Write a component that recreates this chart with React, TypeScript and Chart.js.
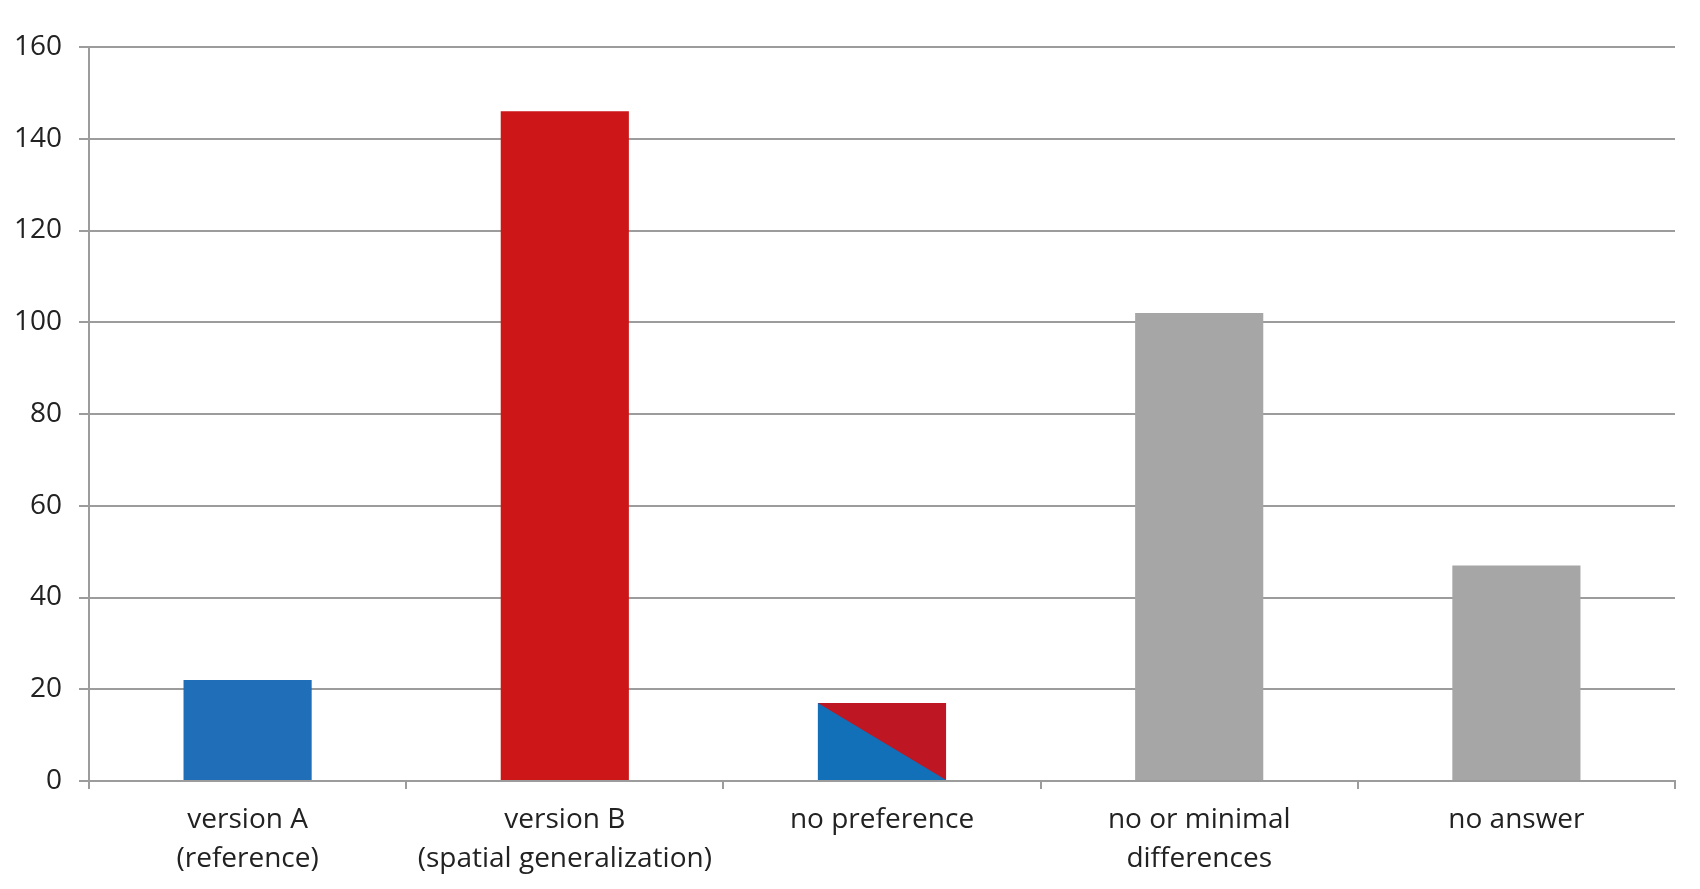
import React, { useEffect, useRef } from "react";
import { Chart, registerables } from "chart.js";

Chart.register(...registerables);

const categories: string[][] = [
  ["version A", "(reference)"],
  ["version B", "(spatial generalization)"],
  ["no preference"],
  ["no or minimal", "differences"],
  ["no answer"],
];
const counts: number[] = [22, 146, 17, 102, 47];
const barColors: string[] = ["#1F6EB7", "#CC1618", "#BE1622", "#A6A6A6", "#A6A6A6"];
const splitBarIndex = 2;
const splitLowerColor = "#1170B8";
const yTicks: number[] = [0, 20, 40, 60, 80, 100, 120, 140, 160];

const splitPlugin = {
  id: "splitBar",
  afterDatasetsDraw(chart: any) {
    const meta = chart.getDatasetMeta(0);
    const el: any = meta.data[splitBarIndex];
    if (!el) return;
    const { x, y, base, width } = el.getProps(["x", "y", "base", "width"], true);
    const left = x - width / 2;
    const right = x + width / 2;
    const ctx = chart.ctx;
    ctx.save();
    ctx.fillStyle = splitLowerColor;
    ctx.beginPath();
    ctx.moveTo(left, y);
    ctx.lineTo(right, base);
    ctx.lineTo(left, base);
    ctx.closePath();
    ctx.fill();
    ctx.restore();
  },
};

export default function App() {
  const ref = useRef<HTMLCanvasElement | null>(null);
  useEffect(() => {
    if (!ref.current) return;
    const font = { family: "'Open Sans', Lato, sans-serif", size: 28 };
    const chart = new Chart(ref.current, {
      type: "bar",
      data: {
        labels: categories,
        datasets: [
          {
            data: counts,
            backgroundColor: barColors,
            borderWidth: 0,
            categoryPercentage: 1,
            barPercentage: 0.404,
          },
        ],
      },
      plugins: [splitPlugin],
      options: {
        animation: false,
        responsive: true,
        maintainAspectRatio: false,
        layout: { padding: { top: 47, right: 25, left: 0, bottom: 0 } },
        plugins: { legend: { display: false }, tooltip: { enabled: false } },
        scales: {
          x: {
            afterFit: (s: any) => {
              s.height = 108;
            },
            grid: {
              offset: true,
              drawOnChartArea: false,
              drawTicks: true,
              tickLength: 8,
              color: "#9C9C9C",
              lineWidth: 2,
            },
            border: { display: true, color: "#9C9C9C", width: 2 },
            ticks: {
              color: "#222222",
              font: { ...font, lineHeight: 1.4 },
              padding: 11,
              maxRotation: 0,
              autoSkip: false,
            },
          },
          y: {
            min: 0,
            max: 160,
            afterFit: (s: any) => {
              s.width = 89;
            },
            afterBuildTicks: (s: any) => {
              s.ticks = yTicks.map((v) => ({ value: v }));
            },
            grid: {
              color: "#9C9C9C",
              lineWidth: 2,
              tickLength: 10,
              drawTicks: true,
            },
            border: { display: true, color: "#9C9C9C", width: 2 },
            ticks: {
              color: "#222222",
              font,
              padding: 17,
            },
          },
        },
      },
    });
    return () => chart.destroy();
  }, []);
  return (
    <div style={{ position: "fixed", left: 0, top: 0, width: 1700, height: 889, background: "#fff" }}>
      <canvas ref={ref} />
    </div>
  );
}
